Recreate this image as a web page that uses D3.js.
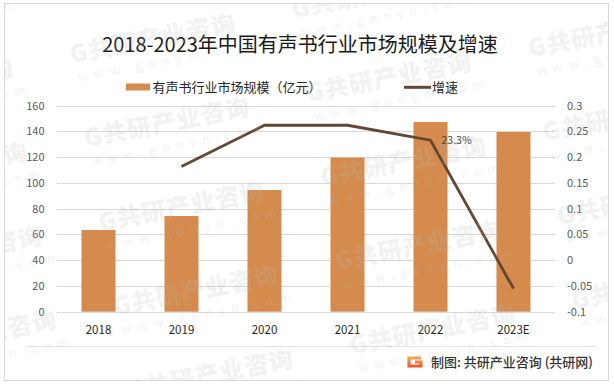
<!DOCTYPE html>
<html>
<head>
<meta charset="utf-8">
<script src="https://cdn.jsdelivr.net/npm/d3@7"></script>
<style>
  html, body { margin: 0; padding: 0; background: #fff; }
  #plot { width: 614px; height: 386px; }
  text { font-family: "Noto Sans CJK SC", "Noto Sans", sans-serif; }
</style>
</head>
<body>
<div id="plot"></div>
<script>
// chart data
const years = ['2018', '2019', '2020', '2021', '2022', '2023E'];
const marketSize = [63.5, 74.3, 94.5, 119.7, 147.3, 139.6];   // 亿元
const growth = [null, 0.182, 0.262, 0.262, 0.233, -0.055];
const leftTicks = [0, 20, 40, 60, 80, 100, 120, 140, 160];
const rightTicks = [-0.1, -0.05, 0, 0.05, 0.1, 0.15, 0.2, 0.25, 0.3];
const labelYear = '2022';
const labelText = '23.3%';

const W = 614, H = 386;
const barColor = '#D48B4D';
const lineColor = '#654630';

const svg = d3.select('#plot').append('svg')
  .attr('width', W)
  .attr('height', H);

// outer frame and footer rule
svg.append('rect')
  .attr('x', 4.5).attr('y', 3.5)
  .attr('width', 604).attr('height', 377)
  .attr('fill', '#fff')
  .attr('stroke', '#d9d9d9');

svg.append('line')
  .attr('x1', 26).attr('x2', 596)
  .attr('y1', 346.5).attr('y2', 346.5)
  .attr('stroke', '#e3e3e3');

// plot area
const x0 = 57, x1 = 555, yTop = 105.7, yBot = 311.7;

const xScale = d3.scaleBand().domain(years).range([x0, x1])
  .paddingInner(0.59).paddingOuter(0.295);
const yLeft = d3.scaleLinear().domain([0, 160]).range([yBot, yTop]);
const yRight = d3.scaleLinear().domain([-0.1, 0.3]).range([yBot, yTop]);

// gridlines
svg.append('g')
  .selectAll('line')
  .data(leftTicks)
  .enter()
  .append('line')
  .attr('x1', x0).attr('x2', x1)
  .attr('y1', (d) => Math.round(yLeft(d)) + 0.5)
  .attr('y2', (d) => Math.round(yLeft(d)) + 0.5)
  .attr('stroke', '#d9d9d9');

// left axis labels
svg.append('g')
  .selectAll('text')
  .data(leftTicks)
  .enter()
  .append('text')
  .attr('x', 44.5)
  .attr('y', (d) => yLeft(d))
  .attr('dy', '0.36em')
  .attr('text-anchor', 'end')
  .style('font-size', '11px')
  .style('fill', '#595959')
  .text((d) => d);

// right axis labels
svg.append('g')
  .selectAll('text')
  .data(rightTicks)
  .enter()
  .append('text')
  .attr('x', 567)
  .attr('y', (d) => yRight(d))
  .attr('dy', '0.36em')
  .attr('text-anchor', 'start')
  .style('font-size', '11px')
  .style('fill', '#595959')
  .text((d) => d);

// bars
svg.append('g')
  .selectAll('rect')
  .data(years)
  .enter()
  .append('rect')
  .attr('x', (d) => xScale(d))
  .attr('y', (d, i) => yLeft(marketSize[i]))
  .attr('width', xScale.bandwidth())
  .attr('height', (d, i) => yBot - yLeft(marketSize[i]))
  .attr('fill', barColor);

// category labels
svg.append('g')
  .selectAll('text')
  .data(years)
  .enter()
  .append('text')
  .attr('x', (d) => xScale(d) + xScale.bandwidth() / 2)
  .attr('y', 334)
  .attr('text-anchor', 'middle')
  .style('font-size', '11.5px')
  .style('fill', '#262626')
  .text((d) => d);

// growth line
const pts = years.map((d, i) => ({ year: d, v: growth[i] })).filter((d) => d.v !== null);
const line = d3.line()
  .x((d) => xScale(d.year) + xScale.bandwidth() / 2)
  .y((d) => yRight(d.v));

svg.append('path')
  .datum(pts)
  .attr('d', line)
  .attr('fill', 'none')
  .attr('stroke', lineColor)
  .attr('stroke-width', 2.8);

// data label
const lp = pts.find((d) => d.year === labelYear);
svg.append('text')
  .attr('x', xScale(lp.year) + xScale.bandwidth() / 2 + 11)
  .attr('y', yRight(lp.v) + 3.5)
  .style('font-size', '10.5px')
  .style('fill', '#404040')
  .text(labelText);

// title
svg.append('text')
  .attr('x', 300)
  .attr('y', 51.5)
  .attr('text-anchor', 'middle')
  .style('font-size', '20px')
  .style('fill', '#1a1a1a')
  .text('2018-2023年中国有声书行业市场规模及增速');

// legend
svg.append('rect')
  .attr('x', 126).attr('y', 83.5)
  .attr('width', 24).attr('height', 7)
  .attr('fill', barColor);
svg.append('text')
  .attr('x', 152.5).attr('y', 92)
  .style('font-size', '13px')
  .style('fill', '#262626')
  .text('有声书行业市场规模（亿元）');
svg.append('line')
  .attr('x1', 404).attr('x2', 431)
  .attr('y1', 87.3).attr('y2', 87.3)
  .attr('stroke', lineColor)
  .attr('stroke-width', 3);
svg.append('text')
  .attr('x', 432).attr('y', 92)
  .style('font-size', '13px')
  .style('fill', '#262626')
  .text('增速');

// footer: logo + source
const defs = svg.append('defs');
const grad = defs.append('linearGradient').attr('id', 'logoGrad')
  .attr('x1', 0).attr('y1', 0).attr('x2', 0).attr('y2', 1);
grad.append('stop').attr('offset', '0%').attr('stop-color', '#f8a34a');
grad.append('stop').attr('offset', '100%').attr('stop-color', '#ef5a2a');

defs.append('clipPath').attr('id', 'frameClip')
  .append('rect')
  .attr('x', 5).attr('y', 4)
  .attr('width', 603).attr('height', 376);

svg.append('path')
  .attr('d', 'M421,358 L409,358 L409,366 L421,366 L421,362 L415,362')
  .attr('fill', 'none')
  .attr('stroke', 'url(#logoGrad)')
  .attr('stroke-width', 3.2);

svg.append('text')
  .attr('x', 431).attr('y', 366.5)
  .style('font-size', '13px')
  .style('font-weight', 500)
  .style('fill', '#333')
  .text('制图: 共研产业咨询 (共研网)');

// watermark lattice (faint, clipped to the frame)
const wm = svg.append('g')
  .attr('class', 'watermark')
  .attr('clip-path', 'url(#frameClip)')
  .style('pointer-events', 'none');
for (let i = -1; i <= 3; i++) {
  for (let j = -2; j <= 3; j++) {
    const px = 86 + i * 222 + j * 14.5;
    const py = 147 - i * 45 + j * 84;
    if (px < -200 || px > 620 || py < -10 || py > 420) continue;
    const gw = wm.append('g').attr('transform', `translate(${px},${py}) rotate(-11)`);
    gw.append('text')
      .style('font-size', '24px')
      .style('font-weight', 900)
      .style('letter-spacing', '1px')
      .style('fill', '#b9b9b9')
      .style('opacity', 0.18)
      .text('G共研产业咨询');
    gw.append('text')
      .attr('x', 4).attr('y', 20)
      .style('font-size', '12px')
      .style('letter-spacing', '6.5px')
      .style('fill', '#b9b9b9')
      .style('opacity', 0.18)
      .text('www.gonyn.com');
  }
}
</script>
</body>
</html>
